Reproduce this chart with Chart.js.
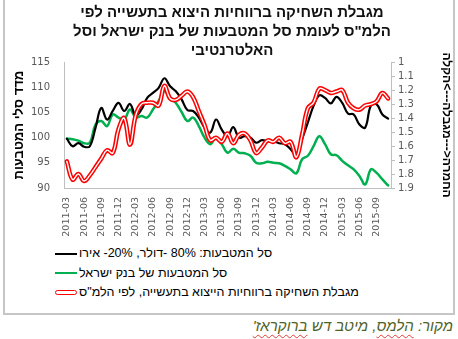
<!DOCTYPE html>
<html>
<head>
<meta charset="utf-8">
<script src="https://cdn.jsdelivr.net/npm/chart.js@4.4.1/dist/chart.umd.min.js"></script>
<style>
  body { margin: 0; width: 458px; height: 339px; overflow: hidden; background: #fff; position: relative; }
  #frame { position: absolute; left: 3px; top: -3px; width: 452px; height: 318px; box-sizing: border-box; border: 2px solid #c6c6c6; }
  #erosion { position: absolute; left: 0; top: 0; }
  #legend { position: absolute; left: 55px; top: 244px; margin: 0; padding: 0; list-style: none;
            font: 12.5px 'Liberation Sans', 'DejaVu Sans', sans-serif; color: #000; }
  #legend li { height: 19.5px; line-height: 19.5px; white-space: nowrap; }
  #legend .swatch { display: inline-block; width: 22px; vertical-align: middle; margin-right: 2px; box-sizing: border-box; }
  #source { position: absolute; right: 5px; top: 317px; direction: rtl; white-space: nowrap;
            font: italic 15px 'Liberation Sans', 'DejaVu Sans', sans-serif; color: #4f6228; }
  #source .sq { text-decoration: underline wavy #e03c3c; text-decoration-thickness: 1px; text-underline-offset: 3px; }
</style>
</head>
<body>
<div id="frame"></div>
<canvas id="erosion" width="458" height="238"></canvas>
<ul id="legend"></ul>
<div id="source">מקור: <span class="sq">הלמס</span>, מיטב דש <span class="sq">ברוקראז'</span></div>
<script>
//----------------------------------------------
// DATA (monthly, 2011-03 .. 2015-11)
//----------------------------------------------
const months = [];
for (let y = 2011, m = 3; months.length < 57; m++) {
    if (m > 12) { m = 1; y++; }
    months.push(y + '-' + (m < 10 ? '0' + m : m));
}

// 80% USD / 20% EUR basket, index (left axis)
const basket8020 = [
    99.8, 98.3, 98.9, 98.2, 98.3, 102.0, 105.9, 103.6, 105.3, 106.9,
    105.3, 106.7, 104.4, 105.6, 107.9, 108.9, 109.9, 111.8, 110.2, 109.2,
    107.6, 105.5, 105.3, 104.0, 102.0, 101.0, 103.6, 101.6, 100.3, 102.1,
    100.0, 100.3, 100.0, 99.0, 99.5, 99.3, 99.3, 98.9, 98.7, 97.7,
    96.5, 99.7, 103.0, 106.3, 108.4, 107.9, 106.8, 108.1, 106.9, 104.8,
    104.6, 102.6, 102.0, 106.4, 106.6, 104.6, 103.8
];

// Bank of Israel currency basket, index (left axis)
const boiBasket = [
    99.8, 99.7, 99.4, 98.9, 99.0, 102.6, 103.3, 102.3, 104.6, 104.0,
    103.6, 105.6, 104.0, 104.3, 104.0, 105.6, 107.3, 109.2, 107.9, 106.9,
    105.1, 103.3, 104.0, 102.3, 100.0, 98.7, 100.0, 98.7, 97.0, 97.8,
    97.0, 96.9, 96.4, 95.0, 94.9, 95.2, 95.0, 94.9, 94.4, 93.7,
    92.9, 95.7, 96.4, 98.3, 100.3, 98.7, 96.7, 96.5, 95.4, 94.5,
    93.7, 92.4, 90.7, 93.7, 93.0, 91.7, 90.5
];

// export profitability erosion limit, CBS (right axis, reversed)
const erosionLimit = [
    1.71, 1.84, 1.80, 1.85, 1.81, 1.75, 1.69, 1.63, 1.65, 1.48,
    1.40, 1.59, 1.38, 1.30, 1.29, 1.29, 1.31, 1.17, 1.26, 1.27,
    1.24, 1.21, 1.25, 1.35, 1.45, 1.56, 1.54, 1.57, 1.51, 1.58,
    1.52, 1.51, 1.56, 1.65, 1.61, 1.56, 1.57, 1.54, 1.58, 1.57,
    1.68, 1.52, 1.33, 1.29, 1.19, 1.20, 1.22, 1.21, 1.20, 1.29,
    1.33, 1.34, 1.31, 1.30, 1.28, 1.22, 1.26
];

const seriesNames = [
    'סל המטבעות: 80% -דולר, 20%- אירו',
    'סל המטבעות של בנק ישראל',
    'מגבלת השחיקה ברווחיות הייצוא בתעשייה, לפי הלמ"ס'
];

const chartTitle = [
    'מגבלת השחיקה ברווחיות היצוא בתעשייה לפי',
    'הלמ"ס לעומת סל המטבעות של בנק ישראל וסל',
    'האלטרנטיבי'
];

const leftTitle = 'מדד סלי המטבעות';
// LRM marks keep the arrows from being mirrored by bidi
const rightTitle = 'הקלה\u200E<---\u200Eמגבלה\u200E--->\u200Eהחמרה';

const TICK_FONT = "'DejaVu Sans', sans-serif";
const HEB_FONT = "'Liberation Sans', 'DejaVu Sans', sans-serif";
const AXIS_GRAY = '#bfbfbf';

//----------------------------------------------
// CHART
//----------------------------------------------
let ctx = document.getElementById('erosion').getContext('2d');
let chart = new Chart(ctx, {
    type: 'line',
    data: {
        labels: months,
        datasets: [
            { label: seriesNames[0], data: basket8020, borderColor: '#000000', borderWidth: 2.2, yAxisID: 'y', order: 2 },
            { label: seriesNames[1], data: boiBasket, borderColor: '#00b050', borderWidth: 2.5, yAxisID: 'y', order: 3 },
            { label: seriesNames[2], data: erosionLimit, borderColor: '#ff0000', borderWidth: 4.5, yAxisID: 'y2', order: 1 },
            // white core on top of the red line (double-line look)
            { label: '', data: erosionLimit, borderColor: '#ffffff', borderWidth: 1.4, yAxisID: 'y2', order: 0 }
        ]
    },
    options: {
        responsive: false,
        animation: false,
        elements: {
            point: { radius: 0 },
            line: { tension: 0.4, fill: false, borderCapStyle: 'round', borderJoinStyle: 'round' }
        },
        layout: { padding: { left: 6, right: 0, top: 0, bottom: 0 } },
        plugins: {
            legend: { display: false },
            tooltip: { enabled: false },
            title: {
                display: true,
                text: chartTitle,
                color: '#111111',
                font: { family: HEB_FONT, size: 15, weight: 'bold', lineHeight: 1.27 },
                padding: { top: 3, bottom: 2 }
            }
        },
        scales: {
            x: {
                offset: true,
                grid: { display: false, drawTicks: false },
                border: { color: AXIS_GRAY, width: 1 },
                ticks: {
                    autoSkip: false,
                    minRotation: 90,
                    maxRotation: 90,
                    padding: 9,
                    color: '#595959',
                    font: { family: TICK_FONT, size: 9.5 },
                    callback: (v, i) => (i % 3 === 0 ? months[i] : '')
                },
                afterFit: (s) => { s.height = 50; }
            },
            y: {
                position: 'left',
                min: 90,
                max: 115,
                grid: { display: false, drawTicks: false },
                border: { color: AXIS_GRAY, width: 1 },
                ticks: { stepSize: 5, padding: 14, color: '#595959', font: { family: TICK_FONT, size: 10 } },
                title: {
                    display: true,
                    text: leftTitle,
                    color: '#000000',
                    font: { family: HEB_FONT, size: 13, weight: 'bold' },
                    padding: { top: 6, bottom: 0 }
                },
                afterFit: (s) => { s.width = 58; }
            },
            y2: {
                position: 'right',
                reverse: true,
                min: 1,
                max: 1.9,
                grid: { drawOnChartArea: false, tickLength: 4, color: AXIS_GRAY },
                border: { color: AXIS_GRAY, width: 1 },
                ticks: {
                    autoSkip: false,
                    stepSize: 0.1,
                    padding: 3,
                    color: '#595959',
                    font: { family: TICK_FONT, size: 10 },
                    callback: (v) => String(+v.toFixed(1))
                },
                title: {
                    display: true,
                    text: rightTitle,
                    color: '#000000',
                    font: { family: HEB_FONT, size: 12, weight: 'bold' },
                    padding: { top: 4, bottom: 0 }
                },
                afterFit: (s) => { s.width = 67; }
            }
        }
    }
});

//----------------------------------------------
// LEGEND (one row per series)
//----------------------------------------------
let legend = document.getElementById('legend');
chart.data.datasets.forEach(function (ds) {
    if (!ds.label) return;
    let li = document.createElement('li');
    let sw = document.createElement('span');
    sw.className = 'swatch';
    if (ds.yAxisID === 'y2') {
        sw.style.height = '5px';
        sw.style.border = '1.5px solid ' + ds.borderColor;
        sw.style.borderRadius = '3px';
    } else {
        sw.style.height = ds.borderWidth + 'px';
        sw.style.background = ds.borderColor;
    }
    let txt = document.createElement('span');
    txt.textContent = ds.label;
    li.appendChild(sw);
    li.appendChild(txt);
    legend.appendChild(li);
});
</script>
</body>
</html>
